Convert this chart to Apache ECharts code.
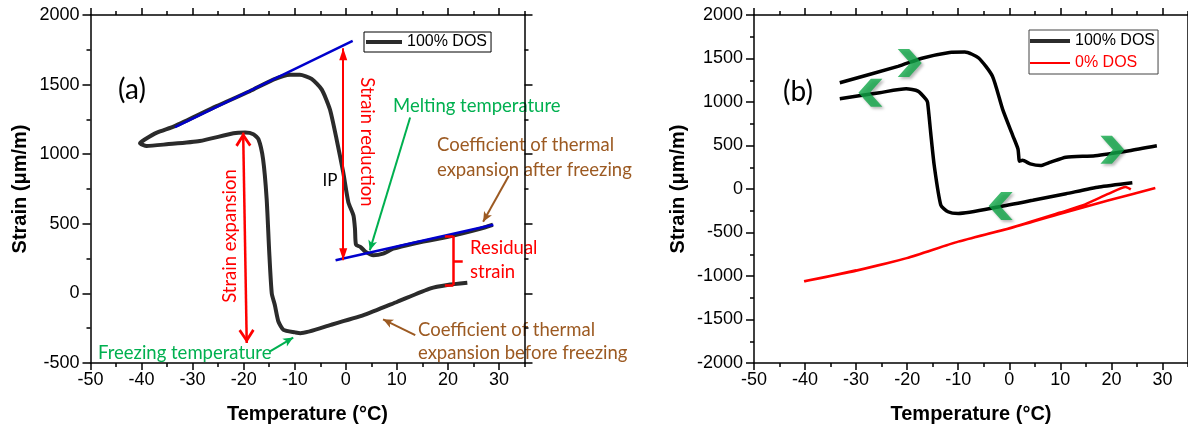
<!DOCTYPE html>
<html>
<head>
<meta charset="utf-8">
<script src="https://cdn.jsdelivr.net/npm/echarts@6/dist/echarts.min.js"></script>
<style>
html, body { margin: 0; padding: 0; background: #fff; }
#charts { width: 1188px; height: 429px; }
</style>
</head>
<body>
<div id="charts"></div>
<script>
// ---- (a) 100% DOS, one run: cooling from 24 C, freezing, then heating back
var tempA = [23.8, 19.9, 16.6, 10.1, 3.6, -2.9, -8.9, -9.9, -12.2, -13.2, -13.9, -14.5, -15.0, -15.5, -16.2, -17.1,
    -18.1, -19.7, -22.0, -28.6, -35.1, -39.0, -40.3, -39.3, -37.0, -33.5, -25.3, -18.8, -14.2, -10.9, -9.0, -6.7,
    -4.7, -3.1, -1.8, -0.5, 0.5, 1.5, 1.8, 2.0, 2.9, 3.9, 5.4, 7.3, 9.3, 13.2, 19.8, 26.3, 28.8];
var strainA = [76, 60, 36, -60, -155, -226, -286, -280, -262, -202, -83, 0, 300, 679, 964, 1107,
    1143, 1155, 1150, 1095, 1071, 1059, 1079, 1107, 1155, 1202, 1345, 1452, 1536, 1571, 1571, 1541,
    1464, 1321, 1107, 869, 655, 559, 464, 350, 333, 298, 274, 286, 321, 357, 405, 464, 493];

// tangent lines on (a)
var fitUpT = [-33.45, 1.35], fitUpS = [1195, 1814];
var fitLowT = [-2.0, 28.9], fitLowS = [238, 493];

// ---- (b)
var tempBup = [-33.2, -21.8, -16.9, -11.7, -8.7, -6.0, -3.3, -1.3, 0.7, 1.7, 2.0, 2.6, 4.1, 6.1, 8.1, 11.1, 16.8, 23.5, 28.9];
var strainBup = [1221, 1410, 1506, 1570, 1575, 1506, 1296, 916, 612, 460, 320, 330, 289, 269, 308, 365, 383, 440, 497];
var tempBlow = [24.1, 17.6, 11.1, 4.6, -2.0, -10.0, -12.0, -13.4, -14.7, -15.4, -16.0, -16.3, -17.9, -20.2, -25.4, -33.2];
var strainBlow = [72, 23, -54, -130, -205, -282, -262, -187, 269, 650, 993, 1030, 1125, 1152, 1107, 1038];
var tempB0 = [28.6, 19.5, 10.0, 0.0, -10.0, -20.1, -30.0, -40.2, -30.0, -20.1, -10.0, 0.0, 10.0, 14.3, 19.5, 22.8, 23.8];
var strainB0 = [11, -130, -285, -455, -605, -795, -940, -1061, -935, -795, -605, -450, -270, -190, -54, 23, -5];

// green direction marks on (b)
var chevT = [-19.5, -27.2, 20.2, -1.7];
var chevS = [1449, 1107, 452, -194];
var chevDir = ['right', 'left', 'right', 'left'];

// ticks
var xMajor = [-50, -40, -30, -20, -10, 0, 10, 20, 30];
var xMinor = [-45, -35, -25, -15, -5, 5, 15, 25, 35];

var FONT = '"Liberation Sans", Arial, sans-serif';
var NOTE = 'Lato, "Open Sans", sans-serif';
var RED = '#ff0000', GREEN = '#00b050', BROWN = '#9c5a22', BLUE = '#0000cc';

function pairs(xs, ys) {
    return xs.map(function (x, i) { return [x, ys[i]]; });
}
function plain(v) { return String(v); }

var axisLine = { show: true, onZero: false, lineStyle: { color: '#000', width: 1.5 } };
var noLine = { show: false, onZero: false };
var tickLine = { color: '#000', width: 1.5 };

function xAxes(grid, nameGap) {
    var base = { gridIndex: grid, type: 'value', min: -50, max: 35, splitLine: { show: false } };
    return [
        Object.assign({}, base, {
            position: 'bottom', axisLine: axisLine,
            axisTick: { show: true, customValues: xMajor, length: 7, lineStyle: tickLine },
            axisLabel: { customValues: xMajor, formatter: plain, color: '#000', fontSize: 18, fontFamily: FONT, margin: 8 },
            name: 'Temperature (°C)', nameLocation: 'middle', nameGap: nameGap,
            nameTextStyle: { color: '#000', fontSize: 20, fontWeight: 'bold', fontFamily: FONT }
        }),
        Object.assign({}, base, {
            position: 'bottom', axisLine: noLine,
            axisTick: { show: true, customValues: xMinor, length: 4, lineStyle: tickLine },
            axisLabel: { show: false }
        }),
        Object.assign({}, base, {
            position: 'top', axisLine: axisLine,
            axisTick: { show: true, customValues: xMajor, length: 7, lineStyle: tickLine },
            axisLabel: { show: false }
        }),
        Object.assign({}, base, {
            position: 'top', axisLine: noLine,
            axisTick: { show: true, customValues: xMinor, length: 4, lineStyle: tickLine },
            axisLabel: { show: false }
        })
    ];
}

function yAxes(grid, min, nameGap) {
    var base = {
        gridIndex: grid, type: 'value', min: min, max: 2000, interval: 500,
        axisLine: axisLine,
        axisTick: { show: true, length: 8, lineStyle: tickLine },
        minorTick: { show: true, splitNumber: 2, length: 4, lineStyle: tickLine },
        splitLine: { show: false }, minorSplitLine: { show: false }
    };
    return [
        Object.assign({}, base, {
            position: 'left',
            axisLabel: { formatter: plain, color: '#000', fontSize: 18, fontFamily: FONT, margin: 11 },
            name: 'Strain (μm/m)', nameLocation: 'middle', nameGap: nameGap,
            nameTextStyle: { color: '#000', fontSize: 20, fontWeight: 'bold', fontFamily: FONT }
        }),
        Object.assign({}, base, { position: 'right', axisLabel: { show: false } })
    ];
}

// an arrow / plain segment drawn in data coordinates; heads are shifted so the tip sits on the end point
function note(xi, yi, segs, color, width, ends, size) {
    return {
        type: 'line', xAxisIndex: xi, yAxisIndex: yi, data: [], silent: true,
        itemStyle: { color: color }, lineStyle: { color: color },
        markLine: {
            silent: true, animation: false,
            symbol: ends, symbolSize: size, symbolOffset: [[0, '50%'], [0, '50%']],
            label: { show: false },
            lineStyle: { type: 'solid', color: color, width: width },
            emphasis: { disabled: true },
            data: segs.map(function (s) { return [{ coord: s[0] }, { coord: s[1] }]; })
        }
    };
}

function text(x, y, str, color, size, rot, align) {
    return {
        type: 'text', x: x, y: y, rotation: rot || 0, silent: true,
        style: {
            text: str, fill: color, fontSize: size, fontFamily: NOTE,
            textAlign: align || 'left', textVerticalAlign: 'middle',
            align: align || 'left', verticalAlign: 'middle'
        }
    };
}

var openHead = 'path://M0,12 L9,0 L18,12 L15.5,13.8 L9,5 L2.5,13.8 Z';
var solidHead = 'path://M5,0 L10,14 L0,14 Z';
var smallHead = 'path://M5,0 L10,10 L5,7.5 L0,10 Z';
var chevron = 'path://M0,0 L12,0 L25,14 L12,28 L0,28 L13,14 Z';
var thickKey = 'path://M0,0 L40,0 L40,4 L0,4 Z';
var thinKey = 'path://M0,0 L40,0 L40,2 L0,2 Z';

var myChart = echarts.init(document.getElementById('charts'));

myChart.setOption({
    animation: false,
    backgroundColor: '#fff',
    grid: [
        { left: 90.5, top: 15, right: 663.5, bottom: 64 },
        { left: 754, top: 15, right: -1.6, bottom: 63.3 }
    ],
    xAxis: xAxes(0, 41).concat(xAxes(1, 41)),
    yAxis: yAxes(0, -500, 60).concat(yAxes(1, -2000, 66)),
    legend: [
        {
            data: [{ name: '100% DOS', icon: 'path://M0,0 L36,0 L36,4 L0,4 Z' }],
            left: 364, top: 32, orient: 'vertical', selectedMode: false, symbolKeepAspect: true,
            itemWidth: 36, itemHeight: 14, padding: [2, 4, 2, 2],
            borderColor: '#000', borderWidth: 1, borderRadius: 0,
            textStyle: { fontSize: 16, fontFamily: FONT, color: '#000' }
        },
        {
            data: [
                { name: '100% DOS', icon: thickKey },
                { name: '0% DOS', icon: thinKey, textStyle: { color: RED } }
            ],
            left: 1029, top: 30, orient: 'vertical', selectedMode: false, symbolKeepAspect: true,
            itemWidth: 40, itemHeight: 14, itemGap: 6, padding: [3, 3, 3, 1],
            borderColor: '#444', borderWidth: 1, borderRadius: 0,
            textStyle: { fontSize: 16, fontFamily: FONT, color: '#000', lineHeight: 16 }
        }
    ],
    series: [
        // ---------- panel (a)
        {
            type: 'line', name: '100% DOS', xAxisIndex: 0, yAxisIndex: 0,
            data: pairs(tempA, strainA), symbol: 'none', smooth: 0.2, z: 3,
            itemStyle: { color: '#2b2b2b' }, lineStyle: { color: '#2b2b2b', width: 4 }
        },
        {
            type: 'line', name: 'fit up', xAxisIndex: 0, yAxisIndex: 0, silent: true,
            data: pairs(fitUpT, fitUpS), symbol: 'none', z: 4,
            lineStyle: { color: BLUE, width: 2.5 }
        },
        {
            type: 'line', name: 'fit low', xAxisIndex: 0, yAxisIndex: 0, silent: true,
            data: pairs(fitLowT, fitLowS), symbol: 'none', z: 4,
            lineStyle: { color: BLUE, width: 2.5 }
        },
        note(0, 0, [[[-20.1, 1155], [-19.4, -357]]], RED, 2.5, [openHead, openHead], [16, 14]),
        note(0, 0, [[[-0.5, 1762], [-0.5, 238]]], RED, 2, [solidHead, solidHead], [8, 12]),
        note(0, 0, [[[12.6, 1264], [4.7, 309]]], GREEN, 2, ['none', smallHead], [9, 10]),
        note(0, 0, [[[-14.85, -416], [-10.3, -317]]], GREEN, 2, ['none', smallHead], [9, 10]),
        note(0, 0, [[[31.9, 843], [26.9, 514]]], BROWN, 2, ['none', smallHead], [9, 10]),
        note(0, 0, [[[13.6, -300], [7.3, -186]]], BROWN, 2, ['none', smallHead], [9, 10]),
        note(0, 0, [
            [[19.4, 412], [21.05, 412]],
            [[21.05, 412], [21.05, 59]],
            [[19.4, 59], [21.05, 59]],
            [[21.05, 231], [22.9, 231]]
        ], RED, 2.5, ['none', 'none'], 0),
        // ---------- panel (b)
        {
            type: 'line', name: '100% DOS', xAxisIndex: 4, yAxisIndex: 2,
            data: pairs(tempBup, strainBup), symbol: 'none', smooth: 0.2, z: 3,
            itemStyle: { color: '#000' }, lineStyle: { color: '#000', width: 3.5 }
        },
        {
            type: 'line', name: '100% DOS', xAxisIndex: 4, yAxisIndex: 2,
            data: pairs(tempBlow, strainBlow), symbol: 'none', smooth: 0.2, z: 3,
            itemStyle: { color: '#000' }, lineStyle: { color: '#000', width: 3.5 }
        },
        {
            type: 'line', name: '0% DOS', xAxisIndex: 4, yAxisIndex: 2,
            data: pairs(tempB0, strainB0), symbol: 'none', smooth: 0.2, z: 2,
            itemStyle: { color: RED }, lineStyle: { color: RED, width: 2.5 }
        },
        {
            type: 'scatter', name: 'direction', xAxisIndex: 4, yAxisIndex: 2, silent: true, z: 6,
            symbol: chevron, symbolSize: [24, 28],
            itemStyle: {
                color: '#10a848', shadowBlur: 3, shadowColor: 'rgba(0,0,0,0.35)',
                shadowOffsetX: 2, shadowOffsetY: 2
            },
            data: chevT.map(function (t, i) {
                return { value: [t, chevS[i]], symbolRotate: chevDir[i] === 'left' ? 180 : 0 };
            })
        }
    ],
    graphic: [
        text(132, 90, '(a)', '#000', 28, 0, 'center'),
        text(330, 181, 'IP', '#000', 17, 0, 'center'),
        text(367, 142, 'Strain reduction', RED, 18.5, -Math.PI / 2, 'center'),
        text(230, 236, 'Strain expansion', RED, 18.5, Math.PI / 2, 'center'),
        text(393, 106, 'Melting temperature', GREEN, 18.5),
        text(437, 145, 'Coefficient of thermal', BROWN, 18.5),
        text(437, 170, 'expansion after freezing', BROWN, 18.5),
        text(470, 248, 'Residual', RED, 18.5),
        text(470, 272, 'strain', RED, 18.5),
        text(418, 330, 'Coefficient of thermal', BROWN, 18.5),
        text(418, 353, 'expansion before freezing', BROWN, 18.5),
        text(98, 353, 'Freezing temperature', GREEN, 18.5),
        text(798, 92, '(b)', '#000', 28, 0, 'center')
    ]
});
</script>
</body>
</html>
